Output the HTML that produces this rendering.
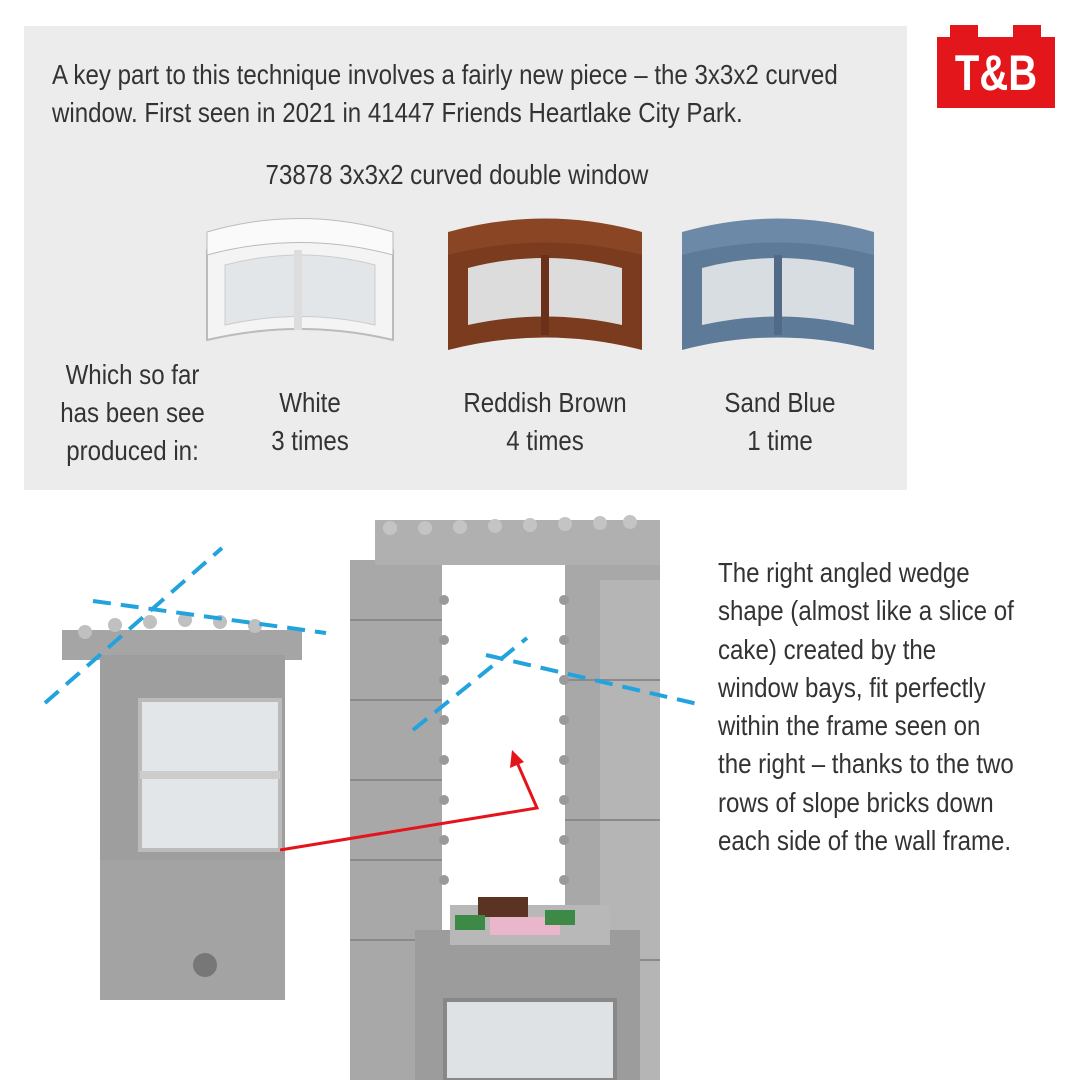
<!DOCTYPE html>
<html><head><meta charset="utf-8"><style>
body{margin:0;width:1080px;height:1080px;background:#fff;position:relative;overflow:hidden;font-family:"Liberation Sans",sans-serif;color:#333}
.t{position:absolute;font-size:28px;line-height:38px;white-space:nowrap;transform:scaleX(0.86);transform-origin:0 0}
.c{text-align:center;transform-origin:50% 0}
</style></head><body>
<div style="position:absolute;left:24px;top:26px;width:883px;height:464px;background:#ececec"></div>
<div class="t" style="left:52px;top:56px">A key part to this technique involves a fairly new piece – the 3x3x2 curved<br>window. First seen in 2021 in 41447 Friends Heartlake City Park.</div>
<div class="t c" style="left:200px;width:514px;top:156px">73878 3x3x2 curved double window</div>
<div class="t c" style="left:40px;width:185px;top:356px">Which so far<br>has been see<br>produced in:</div>
<div class="t c" style="left:210px;width:200px;top:384px">White<br>3 times</div>
<div class="t c" style="left:430px;width:230px;top:384px">Reddish Brown<br>4 times</div>
<div class="t c" style="left:680px;width:200px;top:384px">Sand Blue<br>1 time</div>
<div class="t" style="left:718px;top:554px;line-height:38.3px">The right angled wedge<br>shape (almost like a slice of<br>cake) created by the<br>window bays, fit perfectly<br>within the frame seen on<br>the right – thanks to the two<br>rows of slope bricks down<br>each side of the wall frame.</div>
<!-- logo -->
<div style="position:absolute;left:937px;top:37px;width:118px;height:71px;background:#e3161b"></div>
<div style="position:absolute;left:950px;top:25px;width:28px;height:14px;background:#e3161b"></div>
<div style="position:absolute;left:1013px;top:25px;width:28px;height:14px;background:#e3161b"></div>
<div style="position:absolute;left:937px;top:42px;width:118px;text-align:center;color:#fff;font-weight:bold;font-size:50px;line-height:62px;transform:scaleX(0.8)">T&amp;B</div>
<svg width="1080" height="1080" style="position:absolute;left:0;top:0">
<g>
<path d="M207 250 Q300 220 393 250 L393 340 Q300 318 207 340Z" fill="#f4f4f4" stroke="#bbb" stroke-width="2"/>
<path d="M225 265 Q300 245 375 265 L375 325 Q300 308 225 325Z" fill="#e2e6e8" stroke="#ccc"/>
<line x1="298" y1="250" x2="298" y2="330" stroke="#ddd" stroke-width="8"/>
<path d="M207 232 Q300 205 393 232 L393 255 Q300 230 207 255Z" fill="#fafafa" stroke="#bbb"/>
</g>
<g>
<path d="M448 250 Q545 220 642 250 L642 350 Q545 325 448 350Z" fill="#7a3b1f"/>
<path d="M468 268 Q545 248 622 268 L622 325 Q545 308 468 325Z" fill="#dcdcdc"/>
<line x1="545" y1="255" x2="545" y2="335" stroke="#6a301a" stroke-width="8"/>
<path d="M448 232 Q545 205 642 232 L642 255 Q545 230 448 255Z" fill="#8a4525"/>
</g>
<g>
<path d="M682 250 Q778 220 874 250 L874 350 Q778 325 682 350Z" fill="#5e7a99"/>
<path d="M702 268 Q778 248 854 268 L854 325 Q778 308 702 325Z" fill="#d8dde2"/>
<line x1="778" y1="255" x2="778" y2="335" stroke="#506a88" stroke-width="8"/>
<path d="M682 232 Q778 205 874 232 L874 255 Q778 230 682 255Z" fill="#6d89a8"/>
</g>
<!-- frame -->
<rect x="350" y="560" width="92" height="520" fill="#a8a8a8"/>
<rect x="565" y="560" width="95" height="520" fill="#a8a8a8"/>
<rect x="600" y="580" width="60" height="500" fill="#b5b5b5"/>
<rect x="375" y="520" width="285" height="45" fill="#b0b0b0"/>
<g fill="#c4c4c4"><circle cx="390" cy="528" r="7"/><circle cx="425" cy="528" r="7"/><circle cx="460" cy="527" r="7"/><circle cx="495" cy="526" r="7"/><circle cx="530" cy="525" r="7"/><circle cx="565" cy="524" r="7"/><circle cx="600" cy="523" r="7"/><circle cx="630" cy="522" r="7"/></g>
<g stroke="#8a8a8a" stroke-width="2"><line x1="350" y1="620" x2="442" y2="620"/><line x1="350" y1="700" x2="442" y2="700"/><line x1="350" y1="780" x2="442" y2="780"/><line x1="350" y1="860" x2="442" y2="860"/><line x1="350" y1="940" x2="442" y2="940"/><line x1="565" y1="680" x2="660" y2="680"/><line x1="565" y1="820" x2="660" y2="820"/><line x1="565" y1="960" x2="660" y2="960"/></g>
<g fill="#9a9a9a"><circle cx="444" cy="600" r="5"/><circle cx="444" cy="640" r="5"/><circle cx="444" cy="680" r="5"/><circle cx="444" cy="720" r="5"/><circle cx="444" cy="760" r="5"/><circle cx="444" cy="800" r="5"/><circle cx="444" cy="840" r="5"/><circle cx="444" cy="880" r="5"/><circle cx="564" cy="600" r="5"/><circle cx="564" cy="640" r="5"/><circle cx="564" cy="680" r="5"/><circle cx="564" cy="720" r="5"/><circle cx="564" cy="760" r="5"/><circle cx="564" cy="800" r="5"/><circle cx="564" cy="840" r="5"/><circle cx="564" cy="880" r="5"/></g>
<!-- bottom tower -->
<rect x="415" y="930" width="225" height="150" fill="#9c9c9c"/>
<rect x="450" y="905" width="160" height="40" fill="#b8b8b8"/>
<rect x="478" y="897" width="50" height="20" fill="#5b3322"/>
<rect x="490" y="917" width="70" height="18" fill="#e9b6cc"/>
<rect x="455" y="915" width="30" height="15" fill="#3c8a45"/>
<rect x="545" y="910" width="30" height="15" fill="#3c8a45"/>
<rect x="445" y="1000" width="170" height="80" fill="#dfe2e4" stroke="#888" stroke-width="4"/>
<!-- left tower -->
<rect x="62" y="630" width="240" height="30" fill="#a5a5a5"/>
<g fill="#c0c0c0"><circle cx="85" cy="632" r="7"/><circle cx="115" cy="625" r="7"/><circle cx="150" cy="622" r="7"/><circle cx="185" cy="620" r="7"/><circle cx="220" cy="622" r="7"/><circle cx="255" cy="626" r="7"/></g>
<rect x="100" y="655" width="185" height="345" fill="#9e9e9e"/>
<rect x="140" y="700" width="140" height="150" fill="#e3e6e8" stroke="#bbb" stroke-width="4"/>
<line x1="140" y1="775" x2="280" y2="775" stroke="#ccc" stroke-width="8"/>
<rect x="100" y="860" width="185" height="140" fill="#a3a3a3"/>
<circle cx="205" cy="965" r="12" fill="#777"/>
<g stroke="#23a3dd" stroke-width="4" stroke-dasharray="18 10" fill="none">
<line x1="45" y1="703" x2="222" y2="548"/>
<line x1="93" y1="601" x2="326" y2="633"/>
<line x1="413" y1="730" x2="527" y2="638"/>
<line x1="486" y1="655" x2="702" y2="705"/>
</g>
<polyline points="280,850 537,808 516,760" fill="none" stroke="#e4141b" stroke-width="3"/>
<polygon points="512,750 510,768 524,762" fill="#e4141b"/>
</svg>
</body></html>
